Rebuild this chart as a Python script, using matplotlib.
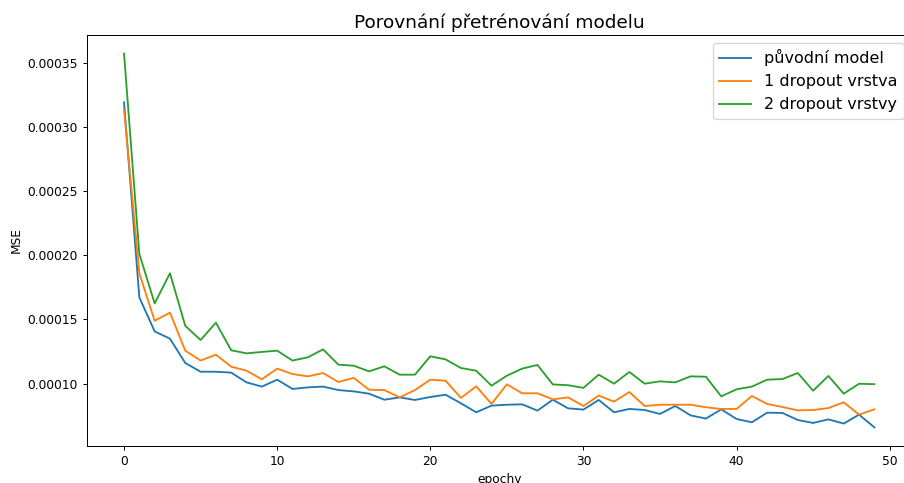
import matplotlib
matplotlib.use("Agg")
import matplotlib.pyplot as plt
import numpy as np

epochs = list(range(50))

puvodni = [0.000319, 0.0001672, 0.0001407, 0.000135, 0.0001161, 0.0001093, 0.0001093, 0.0001086,
           0.000101, 0.0000977, 0.0001031, 0.0000959, 0.0000971, 0.0000977, 0.000095, 0.000094,
           0.0000922, 0.0000875, 0.0000893, 0.0000873, 0.0000896, 0.0000914, 0.0000847, 0.0000777,
           0.0000829, 0.0000836, 0.0000839, 0.000079, 0.0000875, 0.0000808, 0.0000798, 0.0000873,
           0.0000777, 0.0000803, 0.0000795, 0.0000764, 0.0000826, 0.0000753, 0.0000728, 0.00008,
           0.0000725, 0.0000699, 0.0000774, 0.0000772, 0.0000717, 0.0000694, 0.0000722, 0.0000689,
           0.0000759, 0.000066]

dropout1 = [0.0003132, 0.000186, 0.000149, 0.0001553, 0.0001257, 0.000118, 0.0001226, 0.0001132,
            0.0001101, 0.0001034, 0.0001117, 0.0001075, 0.0001057, 0.0001083, 0.0001013, 0.0001045,
            0.0000953, 0.000095, 0.0000893, 0.000095, 0.0001031, 0.0001023, 0.0000889, 0.0000979,
            0.0000842, 0.0000995, 0.0000925, 0.0000925, 0.0000878, 0.0000893, 0.0000826, 0.0000907,
            0.000086, 0.0000935, 0.0000826, 0.0000836, 0.0000836, 0.0000836, 0.0000816, 0.0000803,
            0.0000803, 0.0000904, 0.0000842, 0.0000818, 0.0000792, 0.0000795, 0.000081, 0.0000855,
            0.0000759, 0.00008]

dropout2 = [0.000357, 0.000201, 0.0001625, 0.000186, 0.000145, 0.000134, 0.0001475, 0.000126,
            0.0001236, 0.0001247, 0.0001257, 0.000118, 0.0001205, 0.0001267, 0.0001148, 0.000114,
            0.0001096, 0.0001135, 0.000107, 0.000107, 0.0001213, 0.0001189, 0.0001122, 0.0001101,
            0.0000984, 0.0001062, 0.0001117, 0.0001146, 0.0000994, 0.0000988, 0.0000967, 0.000107,
            0.0001, 0.0001091, 0.0001, 0.0001018, 0.000101, 0.0001057, 0.0001054, 0.0000901,
            0.0000956, 0.0000977, 0.0001031, 0.0001036, 0.0001083, 0.0000945, 0.000106, 0.0000922,
            0.0000999, 0.0000996]

labels = ["původní model", "1 dropout vrstva", "2 dropout vrstvy"]

DPI = 88.7
fig = plt.figure(figsize=(904 / DPI, 483 / DPI), dpi=DPI)
ax = fig.add_axes([0.0957, 0.0766, 0.913, 0.851])
ax.plot(epochs, puvodni, label=labels[0])
ax.plot(epochs, dropout1, label=labels[1])
ax.plot(epochs, dropout2, label=labels[2])
ax.set_title("Porovnání přetrénování modelu", fontsize=15)
ax.set_xlabel("epochy")
ax.set_ylabel("MSE")
ax.legend(loc="upper right", fontsize=13)
fig.savefig("out.png", dpi=DPI)
